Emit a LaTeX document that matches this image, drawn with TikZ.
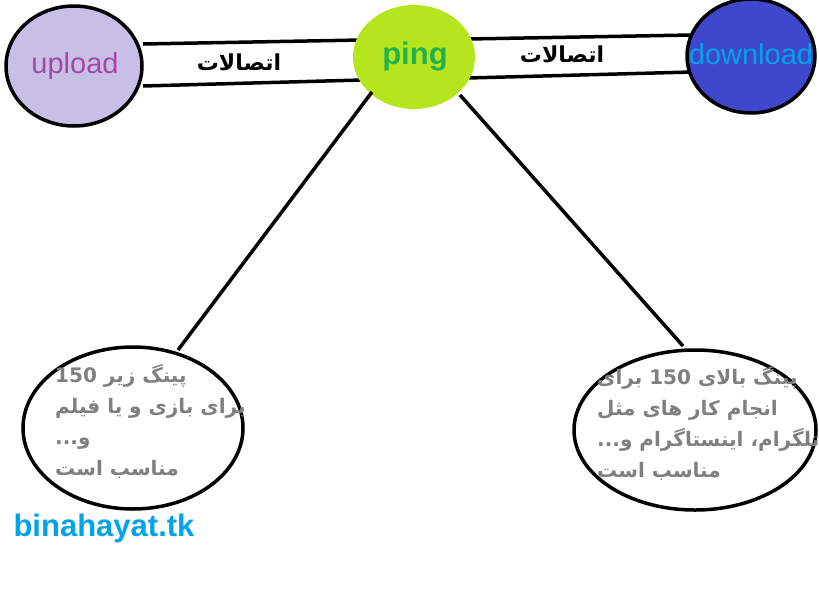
\documentclass[tikz,border=0pt]{standalone}
\usepackage{fontspec}
\setmainfont{Liberation Sans}
\newfontfamily\arabicfont[Script=Arabic]{DejaVu Sans}
\TeXXeTstate=1
\begin{document}
\begin{tikzpicture}[x=1pt,y=-1pt,
  bub/.style={draw=black,line width=3.5pt},
  bar/.style={line width=3.5pt},
  gtext/.style={text=gray50,font=\arabicfont\bfseries\fontsize{20}{31}\selectfont,align=left,anchor=north west,inner sep=0pt},
  lbl/.style={font=\arabicfont\bfseries\fontsize{22}{26}\selectfont}]
\definecolor{gray50}{HTML}{7F7F7F}
\definecolor{lav}{HTML}{C8BFE7}
\definecolor{lime}{HTML}{B5E61D}
\definecolor{indig}{HTML}{3F48CC}
\definecolor{cyanb}{HTML}{00A2E8}
\definecolor{mag}{HTML}{A349A4}
\definecolor{grn}{HTML}{22B14C}
\useasboundingbox (0,0) rectangle (819,592);
% bars
\coordinate (b1) at (143,44); \coordinate (b2) at (362,40);
\coordinate (b3) at (143,86); \coordinate (b4) at (362,80);
\coordinate (b5) at (468,39); \coordinate (b6) at (692,35);
\coordinate (b7) at (468,78); \coordinate (b8) at (692,72);
\draw[bar] (b1) -- (b2); \draw[bar] (b3) -- (b4);
\draw[bar] (b5) -- (b6); \draw[bar] (b7) -- (b8);
\node[lbl] (t1) at (239,62) {\beginR اتصالات\endR};
\node[lbl] (t2) at (562,54) {\beginR اتصالات\endR};
% circles
\draw[bub,fill=lav] (74,66) ellipse [x radius=68, y radius=60];
\node[text=mag,font=\fontsize{29}{32}\selectfont] (up) at (75,66) {upload};
\fill[lime] (414,57) ellipse [x radius=61, y radius=52];
\node[text=grn,font=\bfseries\fontsize{31}{34}\selectfont] (ping) at (415,57) {ping};
\draw[bub,fill=indig] (751,56) ellipse [x radius=64, y radius=57];
\node[text=cyanb,font=\fontsize{29}{32}\selectfont,inner sep=0pt] (down) at (751,54) {download};
% connectors
\coordinate (p1) at (372,92); \coordinate (e1) at (178,350);
\coordinate (p2) at (460,95); \coordinate (e2) at (683,346);
\draw[bar] (p1) -- (e1); \draw[bar] (p2) -- (e2);
% bottom ellipses
\draw[bub] (133,428) ellipse [x radius=110, y radius=81];
\draw[bub] (695,430) ellipse [x radius=121, y radius=80];
\node[gtext] (lt) at (55,364) {\beginR پینگ زیر \beginL150\endL\endR\\ \beginR برای بازی و یا فیلم\endR\\ \beginR و...\endR\\ \beginR مناسب است\endR};
\node[gtext] (rt) at (597,366) {\beginR پینگ بالای \beginL150\endL{} برای\endR\\ \beginR انجام کار های مثل\endR\\ \beginR تلگرام، اینستاگرام و...\endR\\ \beginR مناسب است\endR};
\node[text=cyanb,font=\bfseries\fontsize{31}{34}\selectfont] (site) at (104,528) {binahayat.tk};
\end{tikzpicture}
\end{document}
